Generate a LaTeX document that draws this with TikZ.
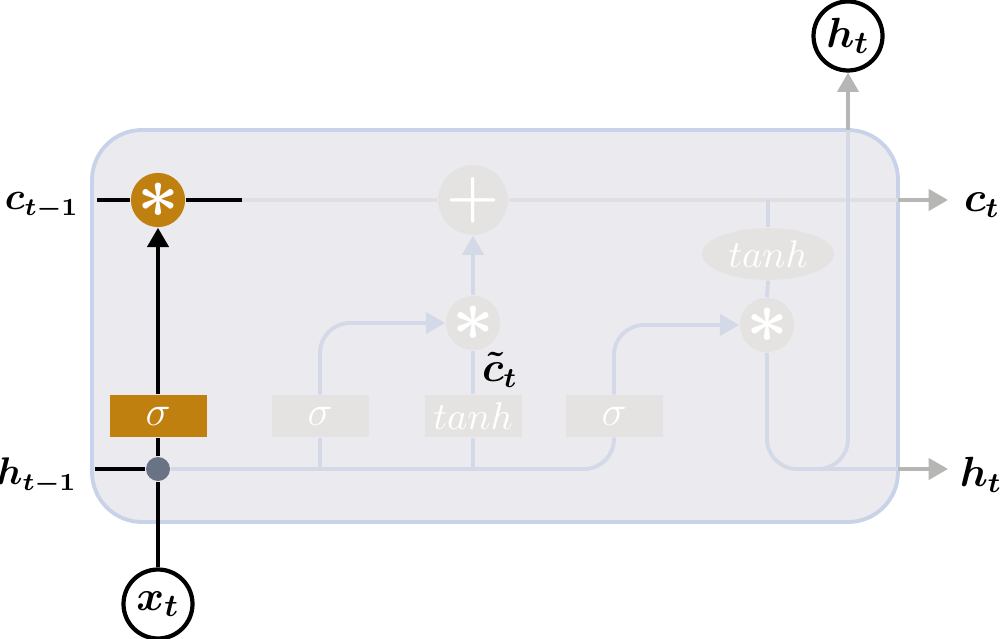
\documentclass[tikz,border=0pt]{standalone}
\usepackage{amsmath,bm}
\usetikzlibrary{arrows.meta,shapes.geometric}

\definecolor{gateorange}{RGB}{192,128,15}
\definecolor{cellfill}{RGB}{235,235,239}
\definecolor{cellborder}{RGB}{200,211,234}
\definecolor{fadefill}{RGB}{228,227,225}
\definecolor{fadeline}{RGB}{212,217,231}
\definecolor{fadecell}{RGB}{224,224,226}
\definecolor{outgray}{RGB}{182,182,180}
\definecolor{dotgray}{RGB}{106,114,133}

\tikzset{
  op/.style={circle, minimum size=5mm, inner sep=0pt, text=white},
  gatebox/.style={minimum width=9.7mm, minimum height=4.2mm, inner sep=0pt, text=white,
    font=\fontsize{13}{15}\selectfont},
  io/.style={circle, draw, line width=1.2pt, minimum size=6.9mm, inner sep=0pt,
    font=\fontsize{13}{15}\selectfont},
  lbl/.style={font=\fontsize{11.5}{14}\selectfont},
  faded/.style={draw=fadeline, line width=1.1pt},
  outline/.style={draw=outgray, line width=1.1pt},
  heavy/.style={draw=black, line width=1.2pt},
}

\begin{document}
\begin{tikzpicture}[>={Triangle[width=6pt,length=5.5pt]}]
  \useasboundingbox (0,0) rectangle (10,6.38);
  % cell
  \draw[cellborder, fill=cellfill, line width=1.1pt, rounded corners=5mm] (0.92,1.16) rectangle (8.98,5.08);

  % pointwise operations
  \node[op, fill=gateorange] (mul1) at (1.58,4.38) {\fontsize{20}{20}\selectfont$\bm{\ast}$};
  \node[op, fill=fadefill] (add) at (4.73,4.38) {\fontsize{16}{16}\selectfont$\bm{+}$};
  \node[op, fill=fadefill] (mul2) at (4.73,3.15) {\fontsize{20}{20}\selectfont$\bm{\ast}$};
  \node[op, fill=fadefill] (mul3) at (7.67,3.13) {\fontsize{20}{20}\selectfont$\bm{\ast}$};
  \node[ellipse, fill=fadefill, minimum width=13.2mm, minimum height=5.2mm, inner sep=0pt,
    text=white, font=\fontsize{11}{13}\selectfont] (tanhc) at (7.68,3.84) {$tanh$};

  % gates
  \node[gatebox, fill=gateorange] (forget) at (1.58,2.22) {$\sigma$};
  \node[gatebox, fill=fadefill] (input) at (3.20,2.22) {$\sigma$};
  \node[gatebox, fill=fadefill, font=\fontsize{11}{13}\selectfont] (cand) at (4.73,2.22) {$tanh$};
  \node[gatebox, fill=fadefill] (output) at (6.14,2.22) {$\sigma$};
  \node[circle, fill=dotgray, minimum size=2.4mm, inner sep=0pt] (join) at (1.58,1.69) {};

  % inputs, outputs, labels
  \node[io] (xt) at (1.58,0.34) {$\bm{x_t}$};
  \node[io] (htop) at (8.48,6.02) {$\bm{h_t}$};
  \node[lbl, font=\fontsize{10.5}{13}\selectfont] (cprev) at (0.42,4.32) {$\bm{c_{t-1}}$};
  \node[lbl, font=\fontsize{10.5}{13}\selectfont] (hprev) at (0.37,1.62) {$\bm{h_{t-1}}$};
  \node[lbl] (cnext) at (9.82,4.33) {$\bm{c_t}$};
  \node[lbl] (hnext) at (9.81,1.63) {$\bm{h_t}$};
  \node[lbl] (ctilde) at (5.00,2.68) {$\bm{\tilde{c}_t}$};

  \coordinate (cin) at (0.97,4.38);
  \coordinate (cmid) at (2.42,4.38);
  \coordinate (cout) at (8.98,4.38);
  \coordinate (ctip) at (9.48,4.38);
  \coordinate (hin) at (0.95,1.69);
  \coordinate (hout) at (8.98,1.69);
  \coordinate (htip) at (9.48,1.69);
  \coordinate (hup) at (8.48,5.08);

  % faded paths
  \draw[draw=fadecell, line width=1.1pt] (cmid) -- (add.west) (add.east) -- (cout);
  \draw[faded, rounded corners=3mm] (join.east) -| (output.south);
  \draw[faded] (input.south) -- (input.south |- join);
  \draw[faded] (cand.south) -- (cand.south |- join);
  \draw[faded, ->, rounded corners=3mm] (input.north) |- (mul2.west);
  \draw[faded] (cand.north) -- (mul2.south);
  \draw[faded, ->] (mul2.north) -- (add.south);
  \draw[faded, ->, rounded corners=3mm] (output.north) |- (mul3.west);
  \draw[faded] (tanhc.north |- cout) -- (tanhc.north);
  \draw[faded] (tanhc.south) -- (mul3.north);
  \draw[faded, rounded corners=3mm] (mul3.south) |- (hout);
  \draw[faded, rounded corners=3mm] (hup) |- ([xshift=-4mm]hout -| hup);

  % outputs
  \draw[outline, ->] (cout) -- (ctip);
  \draw[outline, ->] (hout) -- (htip);
  \draw[outline, ->] (hup) -- (htop.south);

  % forget gate path
  \draw[heavy] (cin) -- (mul1.west) (mul1.east) -- (cmid);
  \draw[heavy] (hin) -- (join.west);
  \draw[heavy] (xt.north) -- (join.south);
  \draw[heavy] (join.north) -- (forget.south);
  \draw[heavy, ->] (forget.north) -- (mul1.south);
\end{tikzpicture}
\end{document}
